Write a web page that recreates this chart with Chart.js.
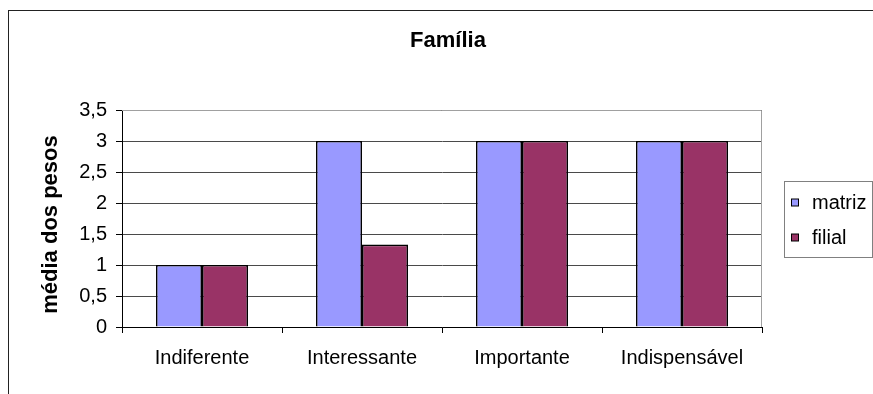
<!DOCTYPE html>
<html>
<head>
<meta charset="utf-8">
<script src="https://cdn.jsdelivr.net/npm/chart.js@4/dist/chart.umd.min.js"></script>
<style>
  html, body { margin: 0; padding: 0; background: #fff; }
  #wrap { width: 873px; height: 394px; }
</style>
</head>
<body>
<div id="wrap"><canvas id="chartFamilia"></canvas></div>
<script>
// dados
const categorias = ["Indiferente", "Interessante", "Importante", "Indispensável"];
const seriesNomes = ["matriz", "filial"];
const valoresMatriz = [1, 3, 3, 3];
const valoresFilial = [1, 1.33, 3, 3];
const coresSeries = ["#9999FF", "#993366"];
const tituloGrafico = "Família";
const tituloEixoY = "média dos pesos";

const FONTE = "'Liberation Sans', Arial, sans-serif";

// moldura externa, titulos, borda da area de plotagem e legenda
const molduraPlugin = {
  id: "moldura",
  beforeDraw(chart) {
    const ctx = chart.ctx;
    ctx.save();
    ctx.fillStyle = "#fff";
    ctx.fillRect(0, 0, chart.width, chart.height);
    ctx.strokeStyle = "#222";
    ctx.lineWidth = 1;
    ctx.strokeRect(8.5, 10.5, 1000, 1000);

    ctx.fillStyle = "#000";
    ctx.font = "bold 22px " + FONTE;
    ctx.textAlign = "center";
    ctx.textBaseline = "alphabetic";
    ctx.fillText(tituloGrafico, 448, 47);

    ctx.translate(57, 224.5);
    ctx.rotate(-Math.PI / 2);
    ctx.fillText(tituloEixoY, 0, 0);
    ctx.restore();
  },
  afterDraw(chart) {
    const ctx = chart.ctx;
    const a = chart.chartArea;
    ctx.save();
    ctx.strokeStyle = "#a0a0a0";
    ctx.lineWidth = 1;
    ctx.beginPath();
    ctx.moveTo(a.left, a.top + 0.5);
    ctx.lineTo(a.right - 0.5, a.top + 0.5);
    ctx.lineTo(a.right - 0.5, a.bottom);
    ctx.stroke();

    // legenda
    ctx.strokeStyle = "#808080";
    ctx.strokeRect(784.5, 181.5, 88, 76);
    ctx.font = "20px " + FONTE;
    ctx.textBaseline = "middle";
    ctx.textAlign = "left";
    chart.data.datasets.forEach((ds, i) => {
      const y = 202.5 + i * 35;
      ctx.fillStyle = ds.backgroundColor;
      ctx.fillRect(791.5, y - 3.5, 7, 7);
      ctx.strokeStyle = "#000";
      ctx.strokeRect(791.5, y - 3.5, 7, 7);
      ctx.fillStyle = "#000";
      ctx.fillText(ds.label, 812, y + 1);
    });
    ctx.restore();
  }
};

const ctx = document.getElementById("chartFamilia").getContext("2d");
new Chart(ctx, {
  type: "bar",
  data: {
    labels: categorias,
    datasets: [
      { label: seriesNomes[0], data: valoresMatriz, backgroundColor: coresSeries[0] },
      { label: seriesNomes[1], data: valoresFilial, backgroundColor: coresSeries[1] }
    ]
  },
  options: {
    responsive: true,
    maintainAspectRatio: false,
    animation: false,
    layout: { padding: { left: 0, right: 111, top: 110, bottom: 0 } },
    datasets: {
      bar: {
        borderColor: "#000",
        borderWidth: 1.6,
        borderSkipped: "bottom",
        categoryPercentage: 0.575,
        barPercentage: 1
      }
    },
    plugins: {
      legend: { display: false },
      tooltip: { enabled: false },
      title: { display: false }
    },
    scales: {
      x: {
        grid: {
          offset: true,
          drawOnChartArea: false,
          tickLength: 6,
          tickColor: "#000"
        },
        border: { color: "#000" },
        ticks: { color: "#000", font: { family: FONTE, size: 20 }, padding: 13, maxRotation: 0 },
        afterFit: (scale) => { scale.height = 67; }
      },
      y: {
        min: 0,
        max: 3.5,
        ticks: {
          stepSize: 0.5,
          color: "#000",
          padding: 9,
          font: { family: FONTE, size: 20 },
          callback: (v) => String(v).replace(".", ",")
        },
        grid: { color: "#4a4a4a", tickLength: 6, tickColor: "#000" },
        border: { color: "#000" },
        afterFit: (scale) => { scale.width = 122; }
      }
    }
  },
  plugins: [molduraPlugin]
});
</script>
</body>
</html>
